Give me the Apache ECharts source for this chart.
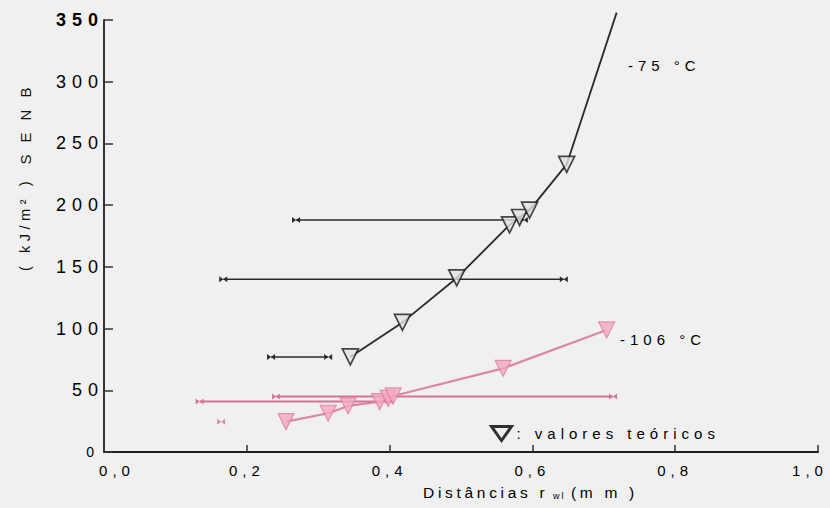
<!DOCTYPE html>
<html>
<head>
<meta charset="utf-8">
<script src="https://cdn.jsdelivr.net/npm/echarts@6/dist/echarts.min.js"></script>
<style>
  html, body { margin: 0; padding: 0; background: #f0f0f0; }
  #main { width: 830px; height: 508px; }
  #main text { letter-spacing: 5px; }
  #main text[style*="18px"] { letter-spacing: 6px; }
  #main text[style*="15.5px"] { letter-spacing: 3.7px; }
  #main text[style*="9px"] { letter-spacing: 2px; }
  #main text[style*="15.01px"] { letter-spacing: 12px; }
  #main text[style*="14.6px"] { letter-spacing: 4.5px; }
</style>
</head>
<body>
<div id="main"></div>
<script>
// ---- data ----
const xTickLabels = ['0,0', '0,2', '0,4', '0,6', '0,8', '1,0'];
const yTickLabels = ['0', '50', '100', '150', '200', '250', '300', '350'];

// -75 °C : theoretical values (triangles) and fitted curve
const theory75X = [0.345, 0.418, 0.494, 0.568, 0.582, 0.596, 0.648];
const theory75Y = [77, 105, 141, 184, 190, 196, 233];
const curve75EndX = 0.718;
const curve75EndY = 356;

// -75 °C : horizontal scatter bars
const bars75Y  = [188, 140, 77];
const bars75Lo = [0.269, 0.167, 0.234];
const bars75Hi = [0.588, 0.644, 0.314];

// -106 °C : theoretical values and curve
const theory106X = [0.255, 0.314, 0.342, 0.386, 0.398, 0.405, 0.559, 0.704];
const theory106Y = [24.6, 31.4, 37.3, 40.8, 43.5, 45.4, 67.8, 98.9];

// -106 °C : horizontal scatter bars
const bars106Y  = [41, 45];
const bars106Lo = [0.134, 0.241];
const bars106Hi = [0.400, 0.713];
const loose106X = [0.164];
const loose106Y = [24.6];

// ---- styles ----
const BLACK = '#2a2a2a';
const PINK = '#dc86a0';
const PINK_DARK = '#d27592';
const BOWTIE = 'path://M0,0L10,6L0,12Z M20,0L10,6L20,12Z';
const FONT = 'Liberation Sans';

const zip = (xs, ys) => xs.map((x, i) => [x, ys[i]]);

const series = [];

bars75Y.forEach((y, i) => {
  series.push({
    type: 'line', silent: true,
    data: [[bars75Lo[i], y], [bars75Hi[i], y]],
    symbol: BOWTIE, symbolSize: [8, 6], showAllSymbol: true,
    lineStyle: { color: BLACK, width: 1.6 },
    itemStyle: { color: BLACK },
    z: 2
  });
});

bars106Y.forEach((y, i) => {
  series.push({
    type: 'line', silent: true,
    data: [[bars106Lo[i], y], [bars106Hi[i], y]],
    symbol: BOWTIE, symbolSize: [8, 6], showAllSymbol: true,
    lineStyle: { color: PINK_DARK, width: 2 },
    itemStyle: { color: PINK_DARK },
    z: 2
  });
});

series.push({
  type: 'scatter', silent: true,
  data: zip(loose106X, loose106Y),
  symbol: BOWTIE, symbolSize: [8, 6],
  itemStyle: { color: PINK_DARK }, z: 2
});

series.push({
  type: 'line', silent: true, clip: false,
  data: zip(theory75X, theory75Y).concat([[curve75EndX, curve75EndY]]),
  symbol: 'none',
  lineStyle: { color: BLACK, width: 1.8 }, z: 3
});

series.push({
  type: 'line', silent: true,
  data: zip(theory106X, theory106Y),
  symbol: 'none',
  lineStyle: { color: PINK, width: 2.2 }, z: 3
});

series.push({
  name: 'valores teóricos',
  type: 'scatter', silent: true,
  data: zip(theory75X, theory75Y),
  symbol: 'triangle', symbolRotate: 180, symbolSize: 16,
  itemStyle: { color: '#e2e2e2', borderColor: '#1a1a1a', borderWidth: 1.7 },
  z: 4
});

series.push({
  name: 'teóricos -106',
  type: 'scatter', silent: true,
  data: zip(theory106X, theory106Y),
  symbol: 'triangle', symbolRotate: 180, symbolSize: 16,
  itemStyle: { color: '#f3a9c0', borderColor: '#e07d9c', borderWidth: 1.2 },
  z: 4
});

const chart = echarts.init(document.getElementById('main'), null, { renderer: 'svg' });
chart.setOption({
  backgroundColor: '#f0f0f0',
  animation: false,
  textStyle: { fontFamily: FONT },
  grid: { left: 104, right: 12, top: 20, bottom: 56 },
  xAxis: {
    type: 'value', min: 0, max: 1.0, interval: 0.2,
    axisLine: { lineStyle: { color: '#1e1e1e', width: 2 } },
    axisTick: { show: true, inside: true, length: 7, lineStyle: { color: '#333', width: 1.5 } },
    splitLine: { show: false },
    axisLabel: {
      color: '#000', fontSize: 15, margin: 11, fontFamily: FONT,
      formatter: v => {
        const i = Math.round(v / 0.2);
        if (i === 0) return '{first|' + xTickLabels[i] + '}';
        if (i === xTickLabels.length - 1) return '{last|' + xTickLabels[i] + '}';
        return xTickLabels[i];
      },
      rich: {
        first: { fontSize: 15, fontFamily: FONT, color: '#000', padding: [0, 0, 0, 26] },
        last: { fontSize: 15, fontFamily: FONT, color: '#000', padding: [0, 16, 0, 0] }
      }
    }
  },
  yAxis: {
    type: 'value', min: 0, max: 350, interval: 50,
    axisLine: { show: true, lineStyle: { color: '#333', width: 2 } },
    axisTick: { show: true, inside: true, length: 9, lineStyle: { color: '#333', width: 1.5 } },
    splitLine: { show: false },
    axisLabel: {
      color: '#000', fontSize: 18, margin: 0, fontFamily: FONT,
      formatter: v => {
        const i = Math.round(v / 50);
        if (i === 0) return '{zero|' + yTickLabels[i] + '}';
        if (i === yTickLabels.length - 1) return '{top|' + yTickLabels[i] + '}';
        return yTickLabels[i];
      },
      rich: {
        zero: { fontSize: 14, fontFamily: FONT, color: '#000', padding: [0, 5, 0, 0] },
        top: { fontSize: 18, fontWeight: 'bold', fontFamily: FONT, color: '#000' }
      }
    }
  },
  legend: {
    left: 485, top: 420,
    itemWidth: 20, itemHeight: 14, itemGap: 5,
    icon: 'path://M0,0L20,0L10,14Z',
    data: [{
      name: 'valores teóricos',
      itemStyle: { color: '#f0f0f0', borderColor: '#000', borderWidth: 3 }
    }],
    formatter: ': valores teóricos',
    textStyle: { color: '#000', fontSize: 15, fontFamily: FONT },
    selectedMode: false
  },
  graphic: [
    {
      type: 'text', x: 628, y: 65,
      style: { text: '-75 °C', fill: '#000', fontSize: 15, fontFamily: FONT, align: 'left', verticalAlign: 'middle' }
    },
    {
      type: 'text', x: 620, y: 339,
      style: { text: '-106 °C', fill: '#000', fontSize: 15, fontFamily: FONT, align: 'left', verticalAlign: 'middle' }
    },
    {
      type: 'text', x: 25, y: 224, rotation: Math.PI / 2,
      style: { text: '( kJ/m² )', fill: '#111', fontSize: 14.6, fontFamily: FONT, align: 'center', verticalAlign: 'middle' }
    },
    {
      type: 'text', x: 25, y: 120, rotation: Math.PI / 2,
      style: { text: 'SENB', fill: '#111', fontSize: 15.01, fontFamily: FONT, align: 'center', verticalAlign: 'middle' }
    },
    {
      type: 'text', x: 423, y: 492,
      style: {
        text: '{a|Distâncias r}{b|wl}{c|(m m )}',
        fill: '#000', fontFamily: FONT, verticalAlign: 'middle', align: 'left',
        rich: {
          a: { fontSize: 15.5, width: 130, fontFamily: FONT, fill: '#000' },
          b: { fontSize: 9, width: 18, padding: [7, 0, 0, 0], fontFamily: FONT, fill: '#000' },
          c: { fontSize: 15.5, fontFamily: FONT, fill: '#000' }
        }
      }
    }
  ],
  series: series
});
</script>
</body>
</html>
